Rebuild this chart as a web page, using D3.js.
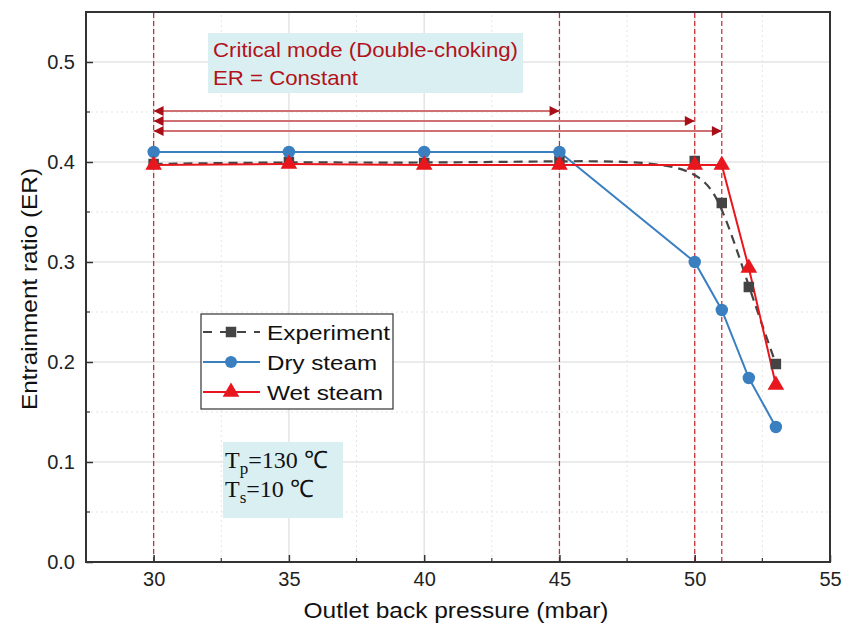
<!DOCTYPE html>
<html><head><meta charset="utf-8">
<script src="https://cdn.jsdelivr.net/npm/d3@7"></script>
<style>body{margin:0;background:#fff}svg{display:block}</style>
</head><body><svg id="c" width="842" height="635"></svg>
<script>
const pressure = [30, 35, 40, 45, 50, 51, 52, 53];
const experiment = [0.398, 0.400, 0.399, 0.401, 0.401, 0.359, 0.275, 0.198];
const drySteam = [0.410, 0.410, 0.410, 0.410, 0.300, 0.252, 0.184, 0.135];
const wetSteam = [0.397, 0.398, 0.397, 0.397, 0.397, 0.397, 0.294, 0.177];
const xTicks = [30, 35, 40, 45, 50, 55];
const yTicks = [0.0, 0.1, 0.2, 0.3, 0.4, 0.5];
const markerLines = [30, 45, 50, 51];
const arrowEnds = [45, 50, 51];
const arrowLevels = [0.451, 0.441, 0.431];

const svg = d3.select("#c");
const W = 842, H = 635;
const m = {l: 86, r: 12, t: 12, b: 73};
const x = d3.scaleLinear().domain([27.5, 55]).range([m.l, W - m.r]);
const y = d3.scaleLinear().domain([0, 0.55]).range([H - m.b, m.t]);
const font = "'Liberation Sans', Arial, sans-serif";

// defs
const defs = svg.append("defs");
defs.append("marker").attr("id","ah").attr("viewBox","0 0 10 10").attr("refX",10).attr("refY",5)
  .attr("markerWidth",5.5).attr("markerHeight",4.5).attr("orient","auto-start-reverse")
  .attr("markerUnits","strokeWidth")
  .append("path").attr("d","M0,0 L10,5 L0,10 Z").attr("fill","#a80f18");

// grid
const g = svg.append("g");
const minorX = d3.range(32.5, 55, 5);
const minorY = d3.range(0.05, 0.55, 0.1);
g.selectAll(".gx").data(xTicks.filter(d => d > 27.5 && d < 55)).join("line")
  .attr("x1", d => x(d)).attr("x2", d => x(d)).attr("y1", y(0)).attr("y2", y(0.55))
  .attr("stroke", "#e4e4e4").attr("stroke-width", 1.5);
g.selectAll(".gxm").data(minorX).join("line")
  .attr("x1", d => x(d)).attr("x2", d => x(d)).attr("y1", y(0)).attr("y2", y(0.55))
  .attr("stroke", "#e4e4e4").attr("stroke-width", 1).attr("stroke-dasharray", "2,3");
g.selectAll(".gy").data(yTicks.filter(d => d > 0)).join("line")
  .attr("y1", d => y(d)).attr("y2", d => y(d)).attr("x1", x(27.5)).attr("x2", x(55))
  .attr("stroke", "#e4e4e4").attr("stroke-width", 1.5);
g.selectAll(".gym").data(minorY).join("line")
  .attr("y1", d => y(d)).attr("y2", d => y(d)).attr("x1", x(27.5)).attr("x2", x(55))
  .attr("stroke", "#e4e4e4").attr("stroke-width", 1).attr("stroke-dasharray", "2,3");

// annotation box
const ab = svg.append("g");
ab.append("rect").attr("x", 208).attr("y", 33).attr("width", 315).attr("height", 60).attr("fill", "#d9eff2");
ab.append("text").attr("x", 213).attr("y", 57).text("Critical mode (Double-choking)")
  .attr("font-family", font).attr("font-size", 21).attr("fill", "#b3121b")
  .attr("textLength", 305).attr("lengthAdjust", "spacingAndGlyphs");
ab.append("text").attr("x", 213).attr("y", 85).text("ER = Constant")
  .attr("font-family", font).attr("font-size", 21).attr("fill", "#b3121b")
  .attr("textLength", 145).attr("lengthAdjust", "spacingAndGlyphs");

// vertical red dashed lines
svg.append("g").selectAll("line").data(markerLines).join("line")
  .attr("x1", d => x(d)).attr("x2", d => x(d)).attr("y1", y(0)).attr("y2", y(0.55))
  .attr("stroke", "#c8282e").attr("stroke-width", 1.2).attr("stroke-dasharray", "5,3");

// arrows
svg.append("g").selectAll("line").data(arrowEnds).join("line")
  .attr("x1", x(30)).attr("x2", d => x(d))
  .attr("y1", (d, i) => y(arrowLevels[i])).attr("y2", (d, i) => y(arrowLevels[i]))
  .attr("stroke", "#cf7073").attr("stroke-width", 2.2)
  .attr("marker-start", "url(#ah)").attr("marker-end", "url(#ah)");

// axes
const ax = svg.append("g");
ax.append("rect").attr("x", x(27.5)).attr("y", y(0.55)).attr("width", x(55) - x(27.5)).attr("height", y(0) - y(0.55))
  .attr("fill", "none").attr("stroke", "#333").attr("stroke-width", 2);
const xAxis = d3.axisBottom(x).tickValues(xTicks).tickSize(-7).tickPadding(10).tickFormat(d3.format("d"));
const xa = svg.append("g").attr("transform", `translate(0,${y(0)})`).call(xAxis);
xa.select(".domain").remove();
xa.selectAll(".tick line").attr("stroke", "#333").attr("stroke-width", 1.5);
xa.selectAll("text").attr("font-family", font).attr("font-size", 20).attr("fill", "#222");
svg.append("g").selectAll("line").data(minorX).join("line")
  .attr("x1", d => x(d)).attr("x2", d => x(d)).attr("y1", y(0)).attr("y2", y(0) - 4)
  .attr("stroke", "#333").attr("stroke-width", 1.2);
const yAxis = d3.axisLeft(y).tickValues(yTicks).tickSize(-7).tickPadding(11).tickFormat(d3.format(".1f"));
const ya = svg.append("g").attr("transform", `translate(${x(27.5)},0)`).call(yAxis);
ya.select(".domain").remove();
ya.selectAll(".tick line").attr("stroke", "#333").attr("stroke-width", 1.5);
ya.selectAll("text").attr("font-family", font).attr("font-size", 20).attr("fill", "#222");
svg.append("g").selectAll("line").data(minorY).join("line")
  .attr("y1", d => y(d)).attr("y2", d => y(d)).attr("x1", x(27.5)).attr("x2", x(27.5) + 4)
  .attr("stroke", "#333").attr("stroke-width", 1.2);

svg.append("text").attr("x", 456).attr("y", 618).attr("text-anchor", "middle")
  .attr("font-family", font).attr("font-size", 22).attr("fill", "#111")
  .attr("textLength", 305).attr("lengthAdjust", "spacingAndGlyphs").text("Outlet back pressure (mbar)");
svg.append("text").attr("transform", `translate(37,289) rotate(-90)`).attr("text-anchor", "middle")
  .attr("font-family", font).attr("font-size", 22).attr("fill", "#111")
  .attr("textLength", 242).attr("lengthAdjust", "spacingAndGlyphs").text("Entrainment ratio (ER)");

// series
const expC = "#444444", dryC = "#3a7fc0", wetC = "#e8161d";
const expPts = pressure.map((p, i) => [p, experiment[i]]);
const dryPts = pressure.map((p, i) => [p, drySteam[i]]);
const wetPts = pressure.map((p, i) => [p, wetSteam[i]]);

svg.append("path").attr("d", d3.line().x(d => x(d[0])).y(d => y(d[1])).curve(d3.curveBasis)(expPts)).attr("fill", "none")
  .attr("stroke", expC).attr("stroke-width", 2.2).attr("stroke-dasharray", "9,6");
svg.append("path").attr("d", d3.line().x(d => x(d[0])).y(d => y(d[1]))(dryPts)).attr("fill", "none")
  .attr("stroke", dryC).attr("stroke-width", 2);
svg.append("path").attr("d", d3.line().x(d => x(d[0])).y(d => y(d[1]))(wetPts)).attr("fill", "none")
  .attr("stroke", wetC).attr("stroke-width", 2);

const sq = d3.symbol().type(d3.symbolSquare).size(110);
const tri = d3.symbol().type(d3.symbolTriangle).size(120);
svg.append("g").selectAll("path").data(expPts).join("path")
  .attr("transform", d => `translate(${x(d[0])},${y(d[1])})`).attr("d", sq).attr("fill", expC);
svg.append("g").selectAll("circle").data(dryPts).join("circle")
  .attr("cx", d => x(d[0])).attr("cy", d => y(d[1])).attr("r", 6.2).attr("fill", dryC);
svg.append("g").selectAll("path").data(wetPts).join("path")
  .attr("transform", d => `translate(${x(d[0])},${y(d[1])})`).attr("d", tri).attr("fill", wetC);

// legend
const lg = svg.append("g");
lg.append("rect").attr("x", 201).attr("y", 314).attr("width", 192).attr("height", 95)
  .attr("fill", "#fff").attr("stroke", "#333").attr("stroke-width", 1.2);
const legendItems = [
  {name: "Experiment", color: expC, dash: "9,8", sym: "sq", w: 123},
  {name: "Dry steam", color: dryC, dash: null, sym: "circle", w: 110},
  {name: "Wet steam", color: wetC, dash: null, sym: "tri", w: 116}
];
legendItems.forEach((it, i) => {
  const ly = 332 + i * 30;
  lg.append("line").attr("x1", 203).attr("x2", 260).attr("y1", ly).attr("y2", ly)
    .attr("stroke", it.color).attr("stroke-width", 2).attr("stroke-dasharray", it.dash);
  if (it.sym === "circle") lg.append("circle").attr("cx", 231).attr("cy", ly).attr("r", 6).attr("fill", it.color);
  else lg.append("path").attr("transform", `translate(231,${ly})`).attr("d", it.sym === "sq" ? sq : tri).attr("fill", it.color);
  lg.append("text").attr("x", 267).attr("y", ly + 7.5).text(it.name)
    .attr("font-family", font).attr("font-size", 21).attr("fill", "#111")
    .attr("textLength", it.w).attr("lengthAdjust", "spacingAndGlyphs");
});

// conditions box
const cb = svg.append("g");
cb.append("rect").attr("x", 223).attr("y", 442).attr("width", 120).attr("height", 76).attr("fill", "#d9eff2");
const serif = "'Liberation Serif', 'Times New Roman', serif";
const t1 = cb.append("text").attr("x", 225).attr("y", 468).attr("font-family", serif).attr("font-size", 24).attr("fill", "#111");
t1.append("tspan").text("T");
t1.append("tspan").attr("dy", 6).attr("font-size", 17).text("p");
t1.append("tspan").attr("dy", -6).text("=130 \u2103");
const t2 = cb.append("text").attr("x", 225).attr("y", 497).attr("font-family", serif).attr("font-size", 24).attr("fill", "#111");
t2.append("tspan").text("T");
t2.append("tspan").attr("dy", 6).attr("font-size", 17).text("s");
t2.append("tspan").attr("dy", -6).text("=10 \u2103");
</script></body></html>
